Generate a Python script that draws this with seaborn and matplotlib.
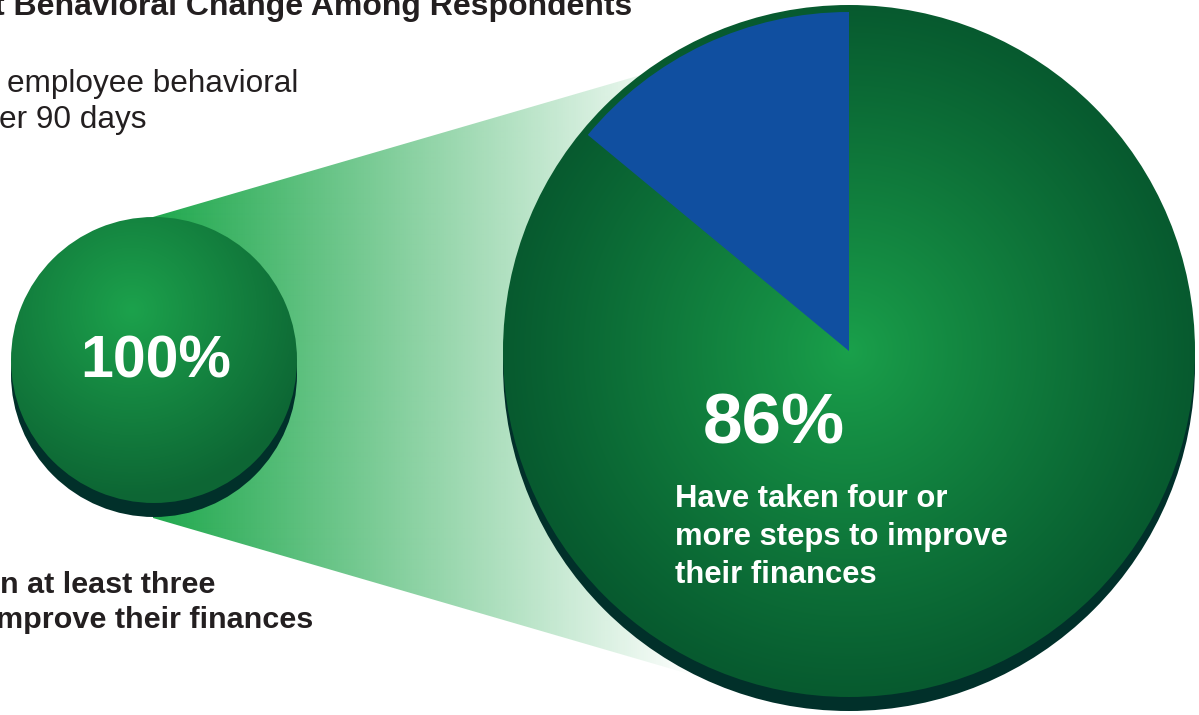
import numpy as np
import matplotlib
matplotlib.use("Agg")
import matplotlib.pyplot as plt
import matplotlib.colors as mcolors
import seaborn as sns
from matplotlib.patches import Circle, Polygon

# ---- data ----
all_share = [100]                      # respondents with at least three steps
split_labels = ["Fewer than four steps", "Four or more steps"]
split_values = [14, 86]                # share of those respondents
big_label = "86%"
small_label = "100%"

title_text = "t Behavioral Change Among Respondents"
sub_lines = ["employee behavioral", "er 90 days"]
left_lines = ["n at least three", "mprove their finances"]
right_lines = ["Have taken four or", "more steps to improve", "their finances"]

# ---- style ----
sns.set_theme(style="white")
plt.rcParams["font.family"] = ["Liberation Sans", "DejaVu Sans"]

W, H = 1199, 715
DARK_TEXT = "#231f20"
BLUE = "#104fa0"
SHADOW = "#01302a"
CONE_GREEN = "#1fa84d"

fig = plt.figure(figsize=(W / 100, H / 100), dpi=100)
ax = fig.add_axes([0, 0, 1, 1])


def px(v):
    """pixel size -> points"""
    return v * 72 / 100


def radial_image(cx, cy, r, hx, hy, inner, outer, reach, gamma=1.0):
    x0, x1 = cx - r - 2, cx + r + 2
    y0, y1 = cy - r - 2, cy + r + 2
    xs = np.linspace(x0, x1, int(x1 - x0))
    ys = np.linspace(y0, y1, int(y1 - y0))
    X, Y = np.meshgrid(xs, ys)
    t = np.clip(np.hypot(X - hx, Y - hy) / reach, 0, 1) ** gamma
    c0 = np.array(mcolors.to_rgb(inner))
    c1 = np.array(mcolors.to_rgb(outer))
    img = c0[None, None, :] * (1 - t[..., None]) + c1[None, None, :] * t[..., None]
    return img, (x0, x1, y1, y0)


# ---- geometry ----
sc_x, sc_y, sc_r = 154, 360, 143
big_x, big_y, big_r = 849, 351, 346
shadow_dy = 14

# connecting cone with a fading green fill
cone_pts = [(153, 217), (720, 52), (720, 683), (153, 518)]
cone = Polygon(cone_pts, closed=True, facecolor="none", edgecolor="none")
ax.add_patch(cone)
gx = np.linspace(140, 720, 580)
alpha = np.clip(1 - (gx - 153) / (695 - 153), 0, 1)
cone_img = np.zeros((2, gx.size, 4))
cone_img[..., :3] = mcolors.to_rgb(CONE_GREEN)
cone_img[..., 3] = alpha[None, :]
im = ax.imshow(cone_img, extent=(140, 720, 690, 40), origin="upper",
               interpolation="bilinear", aspect="auto", zorder=1)
im.set_clip_path(cone)

# ---- small circle (100%) ----
ax.add_patch(Circle((sc_x, sc_y + shadow_dy), sc_r, facecolor=SHADOW,
                    edgecolor="none", zorder=2))
small_wedges, _ = ax.pie(all_share, center=(sc_x, sc_y), radius=sc_r,
                         colors=["none"], wedgeprops=dict(linewidth=0))
for w in small_wedges:
    w.set_zorder(3)
img, ext = radial_image(sc_x, sc_y, sc_r, sc_x - 22, sc_y - 50,
                        "#1ca24c", "#0d6634", sc_r + 45)
im = ax.imshow(img, extent=ext, origin="upper", interpolation="bilinear",
               aspect="auto", zorder=3)
im.set_clip_path(small_wedges[0])

# ---- big pie (86% / 14%) ----
ax.add_patch(Circle((big_x, big_y + shadow_dy), big_r, facecolor=SHADOW,
                    edgecolor="none", zorder=4))
big_wedges, _ = ax.pie(split_values, center=(big_x, big_y), radius=big_r,
                       startangle=270, counterclock=False,
                       colors=[BLUE, "none"], wedgeprops=dict(linewidth=0))
disk = Circle((big_x, big_y), big_r, facecolor="none", edgecolor="none")
ax.add_patch(disk)
img, ext = radial_image(big_x, big_y, big_r, big_x, big_y,
                        "#1aa14b", "#075a2f", big_r, gamma=0.9)
im = ax.imshow(img, extent=ext, origin="upper", interpolation="bilinear",
               aspect="auto", zorder=5)
im.set_clip_path(disk)
big_wedges[0].set_radius(big_r - 7)
big_wedges[0].set_zorder(6)
big_wedges[1].set_zorder(6)

# ---- axes in pixel coordinates ----
ax.set_xlim(0, W)
ax.set_ylim(H, 0)
ax.set_aspect("auto")
ax.axis("off")

# ---- text ----
ax.text(632, 15, title_text, ha="right", va="baseline", fontsize=px(32),
        fontweight="bold", color=DARK_TEXT, zorder=10)
ax.text(7, 92, sub_lines[0], ha="left", va="baseline", fontsize=px(31.5),
        color=DARK_TEXT, zorder=10)
ax.text(-1, 128, sub_lines[1], ha="left", va="baseline", fontsize=px(31.5),
        color=DARK_TEXT, zorder=10)

ax.text(0, 593, left_lines[0], ha="left", va="baseline", fontsize=px(30.5),
        fontweight="bold", color=DARK_TEXT, zorder=10)
ax.text(313, 628, left_lines[1], ha="right", va="baseline", fontsize=px(30.5),
        fontweight="bold", color=DARK_TEXT, zorder=10)

ax.text(156, 378, small_label, ha="center", va="baseline", fontsize=px(59),
        fontweight="bold", color="white", zorder=10)
ax.text(703, 443, big_label, ha="left", va="baseline", fontsize=px(71),
        fontweight="bold", color="white", zorder=10)
for i, line in enumerate(right_lines):
    ax.text(675, 507 + 38 * i, line, ha="left", va="baseline",
            fontsize=px(31), fontweight="bold", color="white", zorder=10)

fig.savefig("out.png", dpi=100, facecolor="white")
